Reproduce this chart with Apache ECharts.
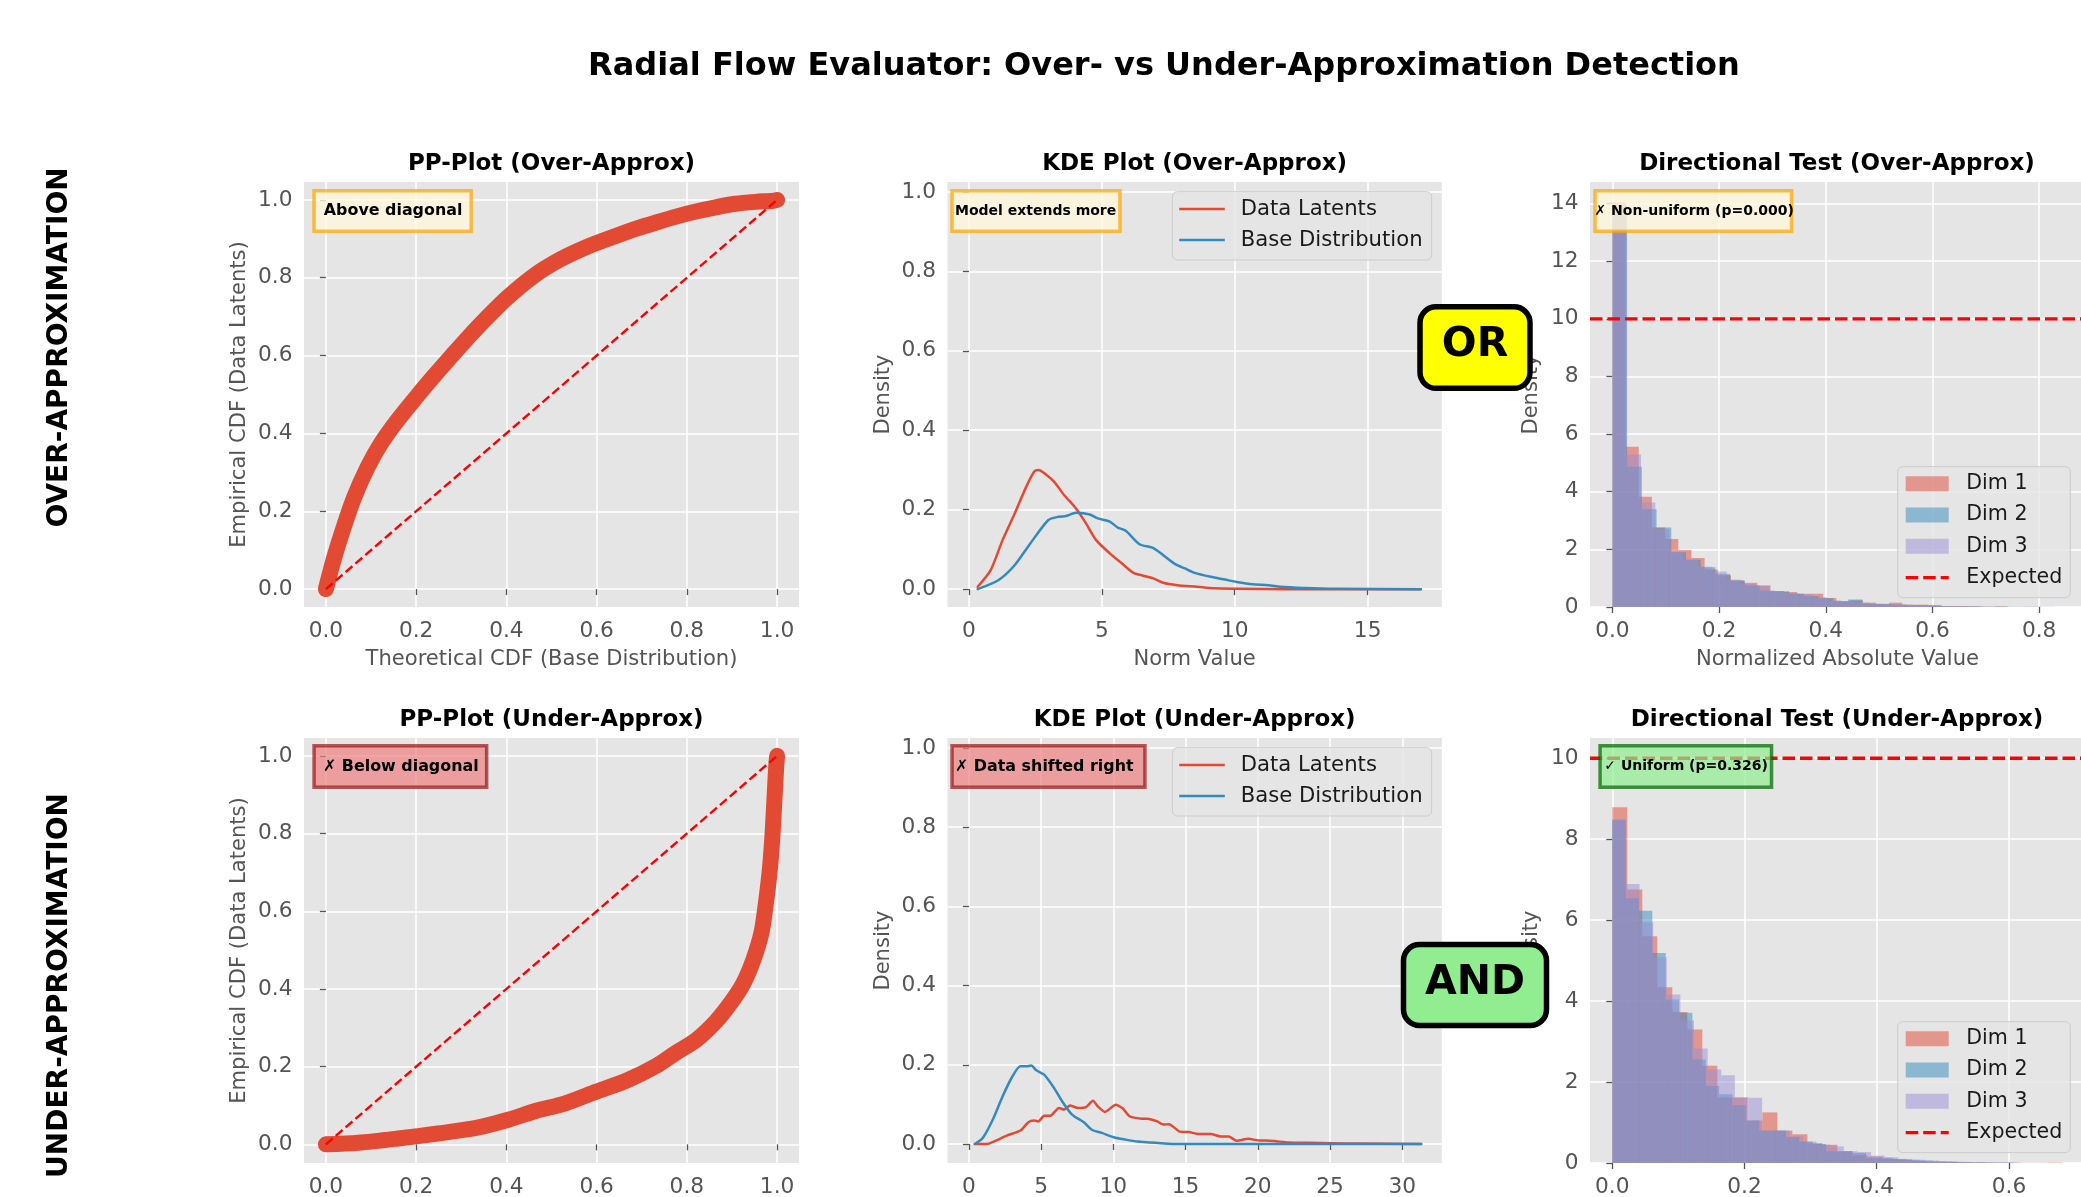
<!DOCTYPE html>
<html>
<head>
<meta charset="utf-8">
<script src="https://cdn.jsdelivr.net/npm/echarts@6/dist/echarts.min.js"></script>
<style>html,body{margin:0;padding:0;background:#fff}#c{width:2081px;height:1197px}</style>
</head>
<body>
<div id="c"></div>
<script>
// ---------------- DATA ----------------
// PP-plot (Over-Approx)
const ppOverX = [0, 0.0185, 0.0406, 0.0628, 0.0924, 0.122, 0.159, 0.2, 0.24, 0.277, 0.314, 0.359, 0.403, 0.462, 0.521, 0.58, 0.644, 0.688, 0.732, 0.776, 0.82, 0.864, 0.908, 0.952, 0.992, 1.0];
const ppOverY = [0, 0.081, 0.163, 0.236, 0.313, 0.374, 0.434, 0.493, 0.548, 0.597, 0.645, 0.700, 0.750, 0.806, 0.848, 0.880, 0.908, 0.926, 0.942, 0.957, 0.970, 0.981, 0.990, 0.995, 0.998, 1.0];
// PP-plot (Under-Approx)
const ppUnderX = [0, 0.072, 0.16, 0.248, 0.336, 0.406, 0.468, 0.529, 0.6, 0.67, 0.732, 0.776, 0.82, 0.864, 0.899, 0.925, 0.947, 0.965, 0.974, 0.983, 0.989, 0.994, 0.998, 1.0];
const ppUnderY = [0, 0.004, 0.015, 0.028, 0.043, 0.064, 0.087, 0.105, 0.136, 0.166, 0.202, 0.236, 0.268, 0.316, 0.367, 0.414, 0.474, 0.543, 0.611, 0.697, 0.783, 0.886, 0.972, 1.0];
// diagonal reference y = x
const diagX = [0, 1];
const diagY = [0, 1];

// KDE (Over-Approx)
const kdeOverDataX = [0.33, 0.82, 1.27, 1.72, 2.16, 2.46, 2.61, 2.84, 3.21, 3.58, 4.03, 4.4, 4.78, 5.3, 5.75, 6.19, 6.5, 6.94, 7.31, 7.84, 8.58, 9.18, 10.07, 12, 14, 17.0];
const kdeOverDataY = [0.006, 0.048, 0.124, 0.19, 0.258, 0.296, 0.300, 0.292, 0.27, 0.237, 0.203, 0.166, 0.124, 0.09, 0.065, 0.041, 0.035, 0.027, 0.016, 0.01, 0.006, 0.002, 0.001, 0, 0, 0];
const kdeOverBaseX = [0.33, 1.12, 1.72, 2.31, 2.99, 3.36, 3.66, 4.03, 4.55, 4.85, 5.3, 5.6, 5.9, 6.42, 6.94, 7.76, 8.13, 8.5, 9.1, 9.63, 10.07, 10.67, 11.27, 11.72, 12.6, 13.8, 17.0];
const kdeOverBaseY = [0, 0.023, 0.06, 0.115, 0.174, 0.182, 0.184, 0.192, 0.188, 0.178, 0.17, 0.155, 0.147, 0.113, 0.103, 0.063, 0.052, 0.041, 0.031, 0.024, 0.018, 0.012, 0.01, 0.006, 0.003, 0.001, 0];
// KDE (Under-Approx)
const kdeUnderDataX = [0.41, 1.24, 1.78, 2.61, 3.57, 4.12, 4.53, 4.8, 5.22, 5.63, 6.23, 6.59, 7.0, 7.55, 8.1, 8.59, 8.92, 9.42, 10.16, 10.62, 11.12, 11.94, 12.35, 13.04, 13.45, 13.86, 14.55, 15.23, 15.92, 16.74, 17.43, 17.98, 18.53, 19.35, 20.04, 20.59, 21.27, 22.1, 23.47, 25.12, 26.76, 31.3];
const kdeUnderDataY = [0, 0, 0.007, 0.021, 0.034, 0.055, 0.059, 0.057, 0.071, 0.071, 0.091, 0.087, 0.097, 0.091, 0.093, 0.109, 0.095, 0.081, 0.099, 0.091, 0.07, 0.064, 0.064, 0.057, 0.049, 0.05, 0.032, 0.03, 0.025, 0.025, 0.019, 0.019, 0.008, 0.013, 0.009, 0.009, 0.007, 0.004, 0.003, 0.002, 0.001, 0];
const kdeUnderBaseX = [0.41, 0.96, 1.65, 2.33, 3.02, 3.57, 3.98, 4.31, 4.67, 5.21, 5.9, 6.45, 7.14, 7.96, 8.51, 9.2, 10.02, 10.84, 11.67, 12.49, 13.31, 14.4, 20, 31.3];
const kdeUnderBaseY = [0, 0.015, 0.061, 0.12, 0.171, 0.196, 0.196, 0.198, 0.186, 0.175, 0.141, 0.108, 0.074, 0.055, 0.036, 0.028, 0.017, 0.011, 0.006, 0.004, 0.002, 0, 0, 0];

// Directional test histograms (density per bin, 30 bins from 0)
const overBinWidth = [0.0247, 0.0276, 0.0268];
const overDim1 = [14.05, 5.56, 3.83, 2.76, 2.36, 1.98, 1.70, 1.30, 1.10, 0.92, 0.84, 0.75, 0.55, 0.52, 0.46, 0.46, 0.31, 0.20, 0.23, 0.15, 0.11, 0.15, 0.08, 0.08, 0.06, 0.03, 0.03, 0.02, 0.01, 0.02];
const overDim2 = [13.95, 4.87, 3.39, 2.76, 1.90, 1.64, 1.38, 1.15, 0.92, 0.75, 0.57, 0.55, 0.46, 0.38, 0.31, 0.20, 0.26, 0.11, 0.10, 0.08, 0.06, 0.05, 0.03, 0.02, 0.02, 0.01, 0.01, 0.005, 0.01, 0.005];
const overDim3 = [14.0, 5.29, 3.63, 2.70, 1.90, 1.64, 1.40, 1.23, 0.95, 0.80, 0.72, 0.55, 0.49, 0.44, 0.34, 0.23, 0.20, 0.15, 0.11, 0.09, 0.08, 0.06, 0.06, 0.03, 0.02, 0.02, 0.01, 0.01, 0.01, 0.01];
const underBinWidth = [0.0227, 0.0202, 0.0206];
const underDim1 = [8.79, 6.76, 5.60, 4.34, 3.73, 3.30, 2.40, 1.62, 1.62, 1.05, 1.25, 0.80, 0.71, 0.49, 0.45, 0.29, 0.20, 0.16, 0.10, 0.08, 0.05, 0.03, 0.03, 0.02, 0.01, 0.01, 0.01, 0.005, 0.005, 0.01];
const underDim2 = [8.47, 6.54, 6.23, 5.19, 4.04, 3.71, 2.56, 1.90, 1.70, 1.43, 1.05, 0.80, 0.80, 0.64, 0.53, 0.47, 0.29, 0.29, 0.25, 0.12, 0.13, 0.10, 0.08, 0.06, 0.04, 0.03, 0.02, 0.02, 0.01, 0.01];
const underDim3 = [8.50, 6.89, 5.94, 5.08, 4.16, 3.52, 2.83, 2.31, 2.17, 1.62, 1.61, 0.80, 0.80, 0.66, 0.53, 0.45, 0.41, 0.29, 0.27, 0.18, 0.14, 0.10, 0.08, 0.06, 0.04, 0.03, 0.02, 0.02, 0.01, 0.01];
const expectedDensity = 10;

// Tick values and labels
const unitTicks = [0, 0.2, 0.4, 0.6, 0.8, 1.0];
const unitTickLabels = ['0.0', '0.2', '0.4', '0.6', '0.8', '1.0'];
const kdeOverXTicks = [0, 5, 10, 15];
const kdeOverXLabels = ['0', '5', '10', '15'];
const kdeUnderXTicks = [0, 5, 10, 15, 20, 25, 30];
const kdeUnderXLabels = ['0', '5', '10', '15', '20', '25', '30'];
const histOverXTicks = [0, 0.2, 0.4, 0.6, 0.8];
const histOverXLabels = ['0.0', '0.2', '0.4', '0.6', '0.8'];
const histUnderXTicks = [0, 0.2, 0.4, 0.6];
const histUnderXLabels = ['0.0', '0.2', '0.4', '0.6'];
const histOverYTicks = [0, 2, 4, 6, 8, 10, 12, 14];
const histOverYLabels = ['0', '2', '4', '6', '8', '10', '12', '14'];
const histUnderYTicks = [0, 2, 4, 6, 8, 10];
const histUnderYLabels = ['0', '2', '4', '6', '8', '10'];

// Texts
const mainTitle = 'Radial Flow Evaluator: Over- vs Under-Approximation Detection';
const panelTitles = ['PP-Plot (Over-Approx)', 'KDE Plot (Over-Approx)', 'Directional Test (Over-Approx)',
                     'PP-Plot (Under-Approx)', 'KDE Plot (Under-Approx)', 'Directional Test (Under-Approx)'];
const rowLabels = ['OVER-APPROXIMATION', 'UNDER-APPROXIMATION'];
const annotations = ['Above diagonal', 'Model extends more', '✗ Non-uniform (p=0.000)',
                     '✗ Below diagonal', '✗ Data shifted right', '✓ Uniform (p=0.326)'];

// ---------------- LAYOUT / STYLE ----------------
const FONT = "'DejaVu Sans', sans-serif";
const RED = '#E24A33', BLUE = '#348ABD';
const DIM_COLORS = ['rgba(226,74,51,0.5)', 'rgba(52,138,189,0.5)', 'rgba(152,142,213,0.5)'];

const gridRects = [
  [304, 182, 495, 425], [947.5, 182, 494.3, 425], [1590, 182, 495, 425],
  [304, 738, 495, 425], [947.5, 738, 494.3, 425], [1590, 738, 495, 425]
];
const xExt = [[-0.0485, 1.0485], [-0.805, 17.79], [-0.042, 0.886], [-0.0485, 1.0485], [-1.48, 32.73], [-0.0337, 0.715]];
const yExt = [[-0.046, 1.046], [-0.045, 1.025], [0, 14.75], [-0.048, 1.046], [-0.048, 1.025], [0, 10.5]];

function zip(a, b) { return a.map((v, i) => [v, b[i]]); }
function fmt(ticks, labels) {
  return v => { const i = ticks.findIndex(t => Math.abs(t - v) < 1e-9); return i >= 0 ? labels[i] : ''; };
}
function axis(idx, ext, ticks, labels, name, nameGap, isY) {
  return {
    type: 'value', gridIndex: idx, min: ext[0], max: ext[1],
    axisLine: { show: false },
    axisTick: { show: true, length: 6, lineStyle: { color: '#555555', width: 1.3 }, customValues: ticks },
    axisLabel: { customValues: ticks, formatter: fmt(ticks, labels), color: '#555555', fontSize: 21.7, fontFamily: FONT, margin: isY ? 11.5 : 13 },
    splitLine: { show: true, lineStyle: { color: '#FFFFFF', width: 1.5 }, customValues: ticks },
    name: name || '', nameLocation: 'middle', nameGap: nameGap, nameRotate: isY ? 90 : 0,
    nameTextStyle: { color: '#555555', fontSize: 21.1, fontFamily: FONT }
  };
}

const xAxes = [
  axis(0, xExt[0], unitTicks, unitTickLabels, 'Theoretical CDF (Base Distribution)', 42, false),
  axis(1, xExt[1], kdeOverXTicks, kdeOverXLabels, 'Norm Value', 42, false),
  axis(2, xExt[2], histOverXTicks, histOverXLabels, 'Normalized Absolute Value', 42, false),
  axis(3, xExt[3], unitTicks, unitTickLabels, '', 42, false),
  axis(4, xExt[4], kdeUnderXTicks, kdeUnderXLabels, '', 42, false),
  axis(5, xExt[5], histUnderXTicks, histUnderXLabels, '', 42, false)
];
const yAxes = [
  axis(0, yExt[0], unitTicks, unitTickLabels, 'Empirical CDF (Data Latents)', 54, true),
  axis(1, yExt[1], unitTicks, unitTickLabels, 'Density', 53, true),
  axis(2, yExt[2], histOverYTicks, histOverYLabels, 'Density', 48, true),
  axis(3, yExt[3], unitTicks, unitTickLabels, 'Empirical CDF (Data Latents)', 54, true),
  axis(4, yExt[4], unitTicks, unitTickLabels, 'Density', 53, true),
  axis(5, yExt[5], histUnderYTicks, histUnderYLabels, 'Density', 48, true)
];

function lineSeries(name, idx, xs, ys, color, width, dash, cap, smooth) {
  return {
    type: 'line', name, xAxisIndex: idx, yAxisIndex: idx, data: zip(xs, ys),
    symbol: 'none', showSymbol: false, silent: true, animation: false,
    smooth: smooth || false,
    lineStyle: { color, width, type: dash || 'solid', cap: cap || 'round', join: 'round' },
    itemStyle: { color }
  };
}
function histSeries(name, idx, heights, width, color) {
  return {
    type: 'custom', name, xAxisIndex: idx, yAxisIndex: idx, silent: true, clip: true,
    data: heights.map((h, i) => [i * width, (i + 1) * width, h]),
    encode: { x: [0, 1], y: 2 },
    itemStyle: { color },
    renderItem: (params, api) => {
      const a = api.coord([api.value(0), api.value(2)]);
      const b = api.coord([api.value(1), 0]);
      return { type: 'rect', shape: { x: a[0], y: a[1], width: b[0] - a[0], height: b[1] - a[1] }, style: { fill: color } };
    }
  };
}

const series = [
  lineSeries('PP Over', 0, ppOverX, ppOverY, RED, 16, null, 'round', 0.3),
  lineSeries('Diagonal', 0, diagX, diagY, '#FF0000', 2.4, [9, 4], 'butt'),
  lineSeries('Data Latents', 1, kdeOverDataX, kdeOverDataY, RED, 2.5, null, 'round', 0.25),
  lineSeries('Base Distribution', 1, kdeOverBaseX, kdeOverBaseY, BLUE, 2.5, null, 'round', 0.25),
  histSeries('Dim 1', 2, overDim1, overBinWidth[0], DIM_COLORS[0]),
  histSeries('Dim 2', 2, overDim2, overBinWidth[1], DIM_COLORS[1]),
  histSeries('Dim 3', 2, overDim3, overBinWidth[2], DIM_COLORS[2]),
  lineSeries('Expected', 2, xExt[2], [expectedDensity, expectedDensity], '#FF0000', 3.3, [12.5, 5], 'butt'),
  lineSeries('PP Under', 3, ppUnderX, ppUnderY, RED, 16, null, 'round', 0.3),
  lineSeries('Diagonal', 3, diagX, diagY, '#FF0000', 2.4, [9, 4], 'butt'),
  lineSeries('Data Latents', 4, kdeUnderDataX, kdeUnderDataY, RED, 2.5, null, 'round', 0.2),
  lineSeries('Base Distribution', 4, kdeUnderBaseX, kdeUnderBaseY, BLUE, 2.5, null, 'round', 0.25),
  histSeries('Dim 1', 5, underDim1, underBinWidth[0], DIM_COLORS[0]),
  histSeries('Dim 2', 5, underDim2, underBinWidth[1], DIM_COLORS[1]),
  histSeries('Dim 3', 5, underDim3, underBinWidth[2], DIM_COLORS[2]),
  lineSeries('Expected', 5, xExt[5], [expectedDensity, expectedDensity], '#FF0000', 3.3, [12.5, 5], 'butt')
];

const LINE_ICON = 'path://M0 0H45.6V2.5H0Z';
const DASH_ICON = 'path://M0 0H12.5V3.3H0Z M17.5 0H30V3.3H17.5Z M35 0H43V3.3H35Z';
function kdeLegend(left, top) {
  return {
    orient: 'vertical', left, top, selectedMode: false, symbolKeepAspect: true,
    backgroundColor: 'rgba(229,229,229,0.8)', borderColor: '#CCCCCC', borderWidth: 1, borderRadius: 5,
    padding: [5.8, 9, 8.5, 6.8], itemGap: 8, itemWidth: 45.6, itemHeight: 14,
    textStyle: { fontSize: 21.2, fontFamily: FONT, color: '#1a1a1a', lineHeight: 23, padding: [0, 0, 0, 10.9] },
    data: [
      { name: 'Data Latents', icon: LINE_ICON, itemStyle: { color: RED } },
      { name: 'Base Distribution', icon: LINE_ICON, itemStyle: { color: BLUE } }
    ]
  };
}
function histLegend(left, top) {
  return {
    orient: 'vertical', left, top, selectedMode: false, symbolKeepAspect: true,
    backgroundColor: 'rgba(229,229,229,0.8)', borderColor: '#CCCCCC', borderWidth: 1, borderRadius: 5,
    padding: [6, 8, 9, 8], itemGap: 9.3, itemWidth: 43, itemHeight: 15,
    textStyle: { fontSize: 20.6, fontFamily: FONT, color: '#1a1a1a', lineHeight: 22, padding: [0, 0, 0, 12.5] },
    data: [
      { name: 'Dim 1', icon: 'rect', itemStyle: { color: DIM_COLORS[0] } },
      { name: 'Dim 2', icon: 'rect', itemStyle: { color: DIM_COLORS[1] } },
      { name: 'Dim 3', icon: 'rect', itemStyle: { color: DIM_COLORS[2] } },
      { name: 'Expected', icon: DASH_ICON, itemStyle: { color: '#FF0000' } }
    ]
  };
}

const titleCenters = [[551.5, 164], [1194.6, 164], [1837, 164], [551.5, 720], [1194.6, 720], [1837, 720]];
const titles = [{ text: mainTitle, left: 1164, top: 48.4, textAlign: 'center', padding: 0,
  textStyle: { fontSize: 32, fontWeight: 'bold', fontFamily: FONT, color: '#000', lineHeight: 36 } }];
panelTitles.forEach((t, i) => titles.push({ text: t, left: titleCenters[i][0], top: titleCenters[i][1] - 14, textAlign: 'center', padding: 0,
  textStyle: { fontSize: 23, fontWeight: 'bold', fontFamily: FONT, color: '#000', lineHeight: 28 } }));

// annotation boxes: [x, y, w, h, textX, fontSize, scheme]
const annoBoxes = [
  [312.3, 189, 160.6, 44, 323.8, 15.9, 'y'], [950.3, 189, 171.4, 44, 955, 14, 'y'], [1593.3, 189, 200, 44, 1594.5, 14, 'y'],
  [312.3, 744, 176.1, 45, 323, 15.9, 'r'], [950.3, 744, 196.4, 45, 955, 15.9, 'r'], [1598.3, 744, 175, 45, 1604.3, 14, 'g']
];
const schemes = {
  y: { fill: 'rgba(255,248,220,0.8)', stroke: 'rgba(255,165,0,0.72)' },
  r: { fill: 'rgba(240,128,128,0.7)', stroke: 'rgba(139,0,0,0.62)' },
  g: { fill: 'rgba(144,238,144,0.7)', stroke: 'rgba(0,100,0,0.7)' }
};
const graphics = [];
annoBoxes.forEach((b, i) => {
  const s = schemes[b[6]];
  graphics.push({ type: 'rect', z: 100, shape: { x: b[0] + 1.75, y: b[1] + 1.75, width: b[2] - 3.5, height: b[3] - 3.5 },
    style: { fill: s.fill, stroke: s.stroke, lineWidth: 3.5 } });
  graphics.push({ type: 'text', z: 101, x: b[4], y: b[1] + b[3] / 2,
    style: { text: annotations[i], font: 'bold ' + b[5] + 'px ' + FONT, fill: '#000', align: 'left', verticalAlign: 'middle' } });
});
graphics.push({ type: 'text', z: 100, x: 60, y: 347.5, rotation: Math.PI / 2,
  style: { text: rowLabels[0], font: 'bold 28px ' + FONT, fill: '#000', align: 'center', verticalAlign: 'middle' } });
graphics.push({ type: 'text', z: 100, x: 60, y: 985.5, rotation: Math.PI / 2,
  style: { text: rowLabels[1], font: 'bold 28px ' + FONT, fill: '#000', align: 'center', verticalAlign: 'middle' } });
graphics.push({ type: 'rect', z: 110, shape: { x: 1420, y: 306.8, width: 110, height: 81.5, r: 16 }, style: { fill: '#FFFF00', stroke: '#000', lineWidth: 5.5 } });
graphics.push({ type: 'text', z: 111, x: 1475, y: 345, style: { text: 'OR', font: 'bold 41px ' + FONT, fill: '#000', align: 'center', verticalAlign: 'middle' } });
graphics.push({ type: 'rect', z: 110, shape: { x: 1403.5, y: 944.5, width: 143, height: 81, r: 16 }, style: { fill: '#90EE90', stroke: '#000', lineWidth: 5.5 } });
graphics.push({ type: 'text', z: 111, x: 1475, y: 983, style: { text: 'AND', font: 'bold 41px ' + FONT, fill: '#000', align: 'center', verticalAlign: 'middle' } });

const chart = echarts.init(document.getElementById('c'), null, { renderer: 'canvas', width: 2081, height: 1197 });
chart.setOption({
  animation: false,
  backgroundColor: '#FFFFFF',
  textStyle: { fontFamily: FONT },
  title: titles,
  grid: gridRects.map(r => ({ left: r[0], top: r[1], width: r[2], height: r[3], show: true, backgroundColor: '#E5E5E5', borderWidth: 0, containLabel: false, outerBoundsMode: 'none' })),
  xAxis: xAxes,
  yAxis: yAxes,
  legend: [kdeLegend(1172.4, 191.7), kdeLegend(1172.4, 747.7), histLegend(1897.7, 466.7), histLegend(1897.7, 1021.7)],
  series,
  graphic: graphics
});
</script>
</body>
</html>
